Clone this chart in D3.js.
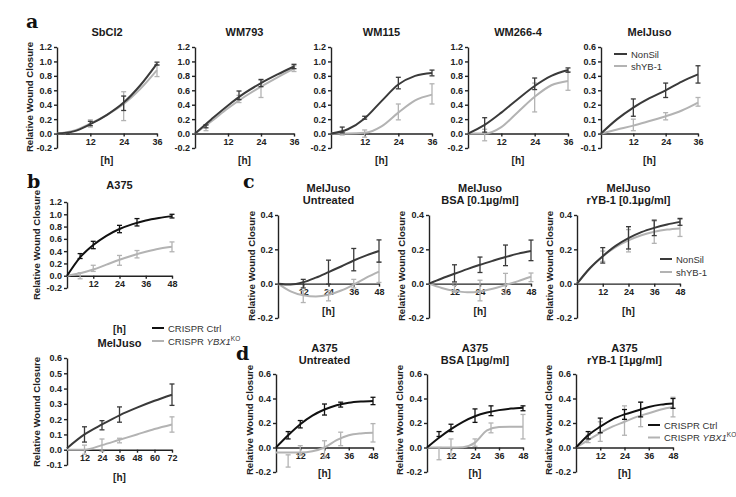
<!DOCTYPE html>
<html><head><meta charset="utf-8">
<script src="https://cdn.jsdelivr.net/npm/d3@7"></script>
<style>body{margin:0;background:#fff}svg{display:block}</style>
</head><body><svg id="fig" width="736" height="497"></svg>
<script>
// ---------- shared ticks / labels ----------
const fit36 = [0, 6, 12, 18, 24, 30, 36];
const fit48 = [0, 6, 12, 18, 24, 30, 36, 42, 48];
const fit72 = [0, 12, 24, 36, 48, 60, 72];
const xTicks36 = [12, 24, 36];
const xTicks48 = [12, 24, 36, 48];
const xTicks72 = [12, 24, 36, 48, 60, 72];
const yTicksA = [-0.2, 0, 0.2, 0.4, 0.6, 0.8, 1.0, 1.2];
const yTicksMel = [-0.1, 0, 0.1, 0.2, 0.3, 0.4, 0.5, 0.6];
const yTicksC = [-0.2, 0, 0.2, 0.4];
const yTicksD = [-0.2, 0, 0.2, 0.4, 0.6];
const legendSh = ["NonSil", "shYB-1"];
const legendCr = ["CRISPR Ctrl", "CRISPR YBX1KO"];
const yLabel = "Relative Wound Closure";
const xLabel = "[h]";

// ---------- panel a ----------
const SbCl2_time = [4, 12, 24, 36];
const SbCl2_ctrl = [0.0, 0.14, 0.42, 0.97];
const SbCl2_ctrlErr = [0.01, 0.03, 0.1, 0.02];
const SbCl2_ko = [0.0, 0.14, 0.38, 0.87];
const SbCl2_koErr = [0.01, 0.05, 0.2, 0.08];
const SbCl2_ctrlFit = [0, 0.03, 0.13, 0.26, 0.43, 0.67, 0.97];
const SbCl2_koFit = [0, 0.04, 0.14, 0.26, 0.41, 0.62, 0.88];

const WM793_time = [4, 16, 24, 36];
const WM793_ctrl = [0.1, 0.53, 0.7, 0.93];
const WM793_ctrlErr = [0.02, 0.06, 0.05, 0.03];
const WM793_ko = [0.08, 0.48, 0.62, 0.9];
const WM793_koErr = [0.04, 0.05, 0.12, 0.04];
const WM793_ctrlFit = [0, 0.2, 0.39, 0.56, 0.7, 0.82, 0.93];
const WM793_koFit = [0, 0.17, 0.35, 0.51, 0.65, 0.78, 0.9];

const WM115_time = [4, 12, 24, 36];
const WM115_ctrl = [0.05, 0.22, 0.70, 0.84];
const WM115_ctrlErr = [0.04, 0.02, 0.08, 0.04];
const WM115_ko = [0.0, 0.0, 0.3, 0.55];
const WM115_koErr = [0.02, 0.05, 0.11, 0.14];
const WM115_ctrlFit = [0, 0.06, 0.21, 0.45, 0.68, 0.8, 0.84];
const WM115_koFit = [0, 0, 0.01, 0.1, 0.29, 0.46, 0.54];

const WM266_time = [6, 24, 36];
const WM266_ctrl = [0.12, 0.69, 0.88];
const WM266_ctrlErr = [0.1, 0.08, 0.03];
const WM266_ko = [-0.02, 0.5, 0.73];
const WM266_koErr = [0.08, 0.2, 0.13];
const WM266_ctrlFit = [0, 0.12, 0.29, 0.48, 0.66, 0.8, 0.88];
const WM266_koFit = [0, 0.0, 0.09, 0.3, 0.51, 0.67, 0.73];

const MelA_time = [12, 24, 36];
const MelA_ctrl = [0.18, 0.30, 0.41];
const MelA_ctrlErr = [0.06, 0.05, 0.06];
const MelA_ko = [0.06, 0.12, 0.22];
const MelA_koErr = [0.04, 0.025, 0.03];
const MelA_ctrlFit = [0, 0.1, 0.18, 0.245, 0.3, 0.36, 0.41];
const MelA_koFit = [0, 0.028, 0.055, 0.087, 0.12, 0.16, 0.215];

// ---------- panel b ----------
const A375b_time = [6, 12, 24, 32, 48];
const A375b_ctrl = [0.32, 0.5, 0.76, 0.87, 0.97];
const A375b_ctrlErr = [0.04, 0.06, 0.06, 0.06, 0.03];
const A375b_ko = [0.0, 0.12, 0.25, 0.35, 0.47];
const A375b_koErr = [0.05, 0.05, 0.08, 0.06, 0.08];
const A375b_ctrlFit = [0, 0.3, 0.5, 0.65, 0.76, 0.84, 0.9, 0.94, 0.97];
const A375b_koFit = [0, 0.04, 0.1, 0.18, 0.26, 0.33, 0.39, 0.44, 0.47];

const MelB_time = [12, 24, 36, 72];
const MelB_ctrl = [0.1, 0.16, 0.23, 0.36];
const MelB_ctrlErr = [0.05, 0.03, 0.05, 0.07];
const MelB_ko = [0.0, 0.03, 0.06, 0.165];
const MelB_koErr = [0.03, 0.04, 0.015, 0.05];
const MelB_ctrlFit = [0.01, 0.1, 0.165, 0.225, 0.275, 0.32, 0.36];
const MelB_koFit = [0, 0.0, 0.03, 0.065, 0.1, 0.135, 0.165];

// ---------- panel c ----------
const cUnt_time = [12, 24, 36, 48];
const cUnt_ctrl = [0.0, 0.067, 0.14, 0.19];
const cUnt_ctrlErr = [0.025, 0.07, 0.065, 0.065];
const cUnt_ko = [-0.075, -0.07, 0.0, 0.067];
const cUnt_koErr = [0.035, 0.03, 0.025, 0.06];
const cUnt_ctrlFit = [0, -0.005, 0.008, 0.035, 0.067, 0.1, 0.135, 0.165, 0.19];
const cUnt_koFit = [0, -0.045, -0.068, -0.075, -0.065, -0.04, -0.005, 0.035, 0.07];

const cBSA_time = [12, 24, 36, 48];
const cBSA_ctrl = [0.06, 0.11, 0.165, 0.194];
const cBSA_ctrlErr = [0.05, 0.045, 0.06, 0.06];
const cBSA_ko = [-0.03, -0.04, 0.0, 0.037];
const cBSA_koErr = [0.02, 0.06, 0.06, 0.025];
const cBSA_ctrlFit = [0, 0.03, 0.058, 0.085, 0.11, 0.133, 0.155, 0.175, 0.19];
const cBSA_koFit = [0, -0.025, -0.042, -0.05, -0.045, -0.03, -0.008, 0.015, 0.04];

const cRYB_time = [12, 24, 36, 48];
const cRYB_ctrl = [0.165, 0.267, 0.325, 0.36];
const cRYB_ctrlErr = [0.045, 0.065, 0.045, 0.02];
const cRYB_ko = [0.16, 0.25, 0.30, 0.325];
const cRYB_koErr = [0.03, 0.065, 0.065, 0.05];
const cRYB_ctrlFit = [0, 0.09, 0.16, 0.22, 0.265, 0.3, 0.325, 0.345, 0.36];
const cRYB_koFit = [0, 0.09, 0.16, 0.213, 0.252, 0.282, 0.302, 0.315, 0.322];

// ---------- panel d ----------
const dUnt_time = [6, 12, 24, 32, 48];
const dUnt_ctrl = [0.1, 0.19, 0.31, 0.35, 0.38];
const dUnt_ctrlErr = [0.03, 0.03, 0.045, 0.02, 0.03];
const dUnt_ko = [-0.11, -0.025, -0.015, 0.07, 0.12];
const dUnt_koErr = [0.05, 0.04, 0.07, 0.055, 0.075];
const dUnt_ctrlFit = [0, 0.1, 0.19, 0.26, 0.31, 0.345, 0.365, 0.375, 0.38];
const dUnt_koFit = [-0.04, -0.04, -0.04, -0.03, 0.0, 0.06, 0.1, 0.115, 0.12];

const dBSA_time = [6, 12, 24, 32, 48];
const dBSA_ctrl = [0.11, 0.16, 0.26, 0.3, 0.32];
const dBSA_ctrlErr = [0.02, 0.03, 0.055, 0.04, 0.02];
const dBSA_ko = [-0.05, 0.0, 0.04, 0.16, 0.17];
const dBSA_koErr = [0.05, 0.07, 0.03, 0.04, 0.1];
const dBSA_ctrlFit = [0, 0.08, 0.15, 0.21, 0.255, 0.285, 0.305, 0.318, 0.325];
const dBSA_koFit = [0, 0, 0, 0.003, 0.04, 0.14, 0.168, 0.17, 0.17];

const dRYB_time = [6, 12, 24, 32, 48];
const dRYB_ctrl = [0.1, 0.18, 0.27, 0.31, 0.36];
const dRYB_ctrlErr = [0.03, 0.06, 0.04, 0.06, 0.04];
const dRYB_ko = [0.07, 0.13, 0.22, 0.27, 0.33];
const dRYB_koErr = [0.03, 0.08, 0.12, 0.1, 0.08];
const dRYB_ctrlFit = [0, 0.1, 0.17, 0.23, 0.27, 0.3, 0.33, 0.35, 0.36];
const dRYB_koFit = [0, 0.06, 0.12, 0.17, 0.21, 0.25, 0.28, 0.31, 0.33];

// ---------- drawing ----------
const svg = d3.select("#fig");
const FONT = "'Liberation Sans', Arial, sans-serif";
const GRAY = "#b3b3b3";
const DARK_A = "#3a3a3a";
const DARK_B = "#111111";
const AX = "#222";

function fmt(d) { return d.toFixed(1).replace("-0.0", "0.0"); }

function series(t, m, e, ft, f, color) { return { t, m, e, ft, f, color }; }

function panel(o) {
  const g = svg.append("g");
  const x = d3.scaleLinear().domain(o.xDom).range([o.x0, o.x1]);
  const y = d3.scaleLinear().domain(o.yDom).range([o.yBot, o.yTop]);

  const ya = g.append("g").attr("transform", `translate(${o.x0},0)`)
    .call(d3.axisLeft(y).tickValues(o.yTicks).tickFormat(fmt).tickSize(3).tickSizeOuter(0).tickPadding(2));
  const xa = g.append("g").attr("transform", `translate(0,${y(0)})`)
    .call(d3.axisBottom(x).tickValues(o.xTicks).tickSize(3).tickSizeOuter(0).tickPadding(2));
  [ya, xa].forEach(a => {
    a.selectAll("path,line").attr("stroke", AX).attr("stroke-width", 1.4);
    a.selectAll("text").attr("fill", AX).attr("font-family", FONT)
      .attr("font-size", 9).attr("font-weight", "bold");
  });

  const line = d3.line().x(d => x(d[0])).y(d => y(d[1])).curve(d3.curveMonotoneX);
  o.series.forEach(s => {
    g.append("path").datum(s.ft.map((t, i) => [t, s.f[i]]))
      .attr("d", line).attr("fill", "none").attr("stroke", s.color)
      .attr("stroke-width", 2);
    const eb = g.append("g").attr("stroke", s.color).attr("stroke-width", 1.3);
    s.t.forEach((t, i) => {
      const cx = x(t), y1 = y(s.m[i] - s.e[i]), y2 = y(s.m[i] + s.e[i]);
      eb.append("line").attr("x1", cx).attr("x2", cx).attr("y1", y1).attr("y2", y2);
      eb.append("line").attr("x1", cx - 2.5).attr("x2", cx + 2.5).attr("y1", y1).attr("y2", y1);
      eb.append("line").attr("x1", cx - 2.5).attr("x2", cx + 2.5).attr("y1", y2).attr("y2", y2);
    });
  });

  const mid = (o.x0 + o.x1) / 2;
  o.title.forEach((tl, i) => {
    g.append("text").attr("x", mid).attr("y", o.titleY + i * 11.5)
      .attr("text-anchor", "middle").attr("font-family", FONT)
      .attr("font-size", 11).attr("font-weight", "bold").attr("fill", "#1a1a1a").text(tl);
  });
  g.append("text").attr("x", mid).attr("y", o.hY).attr("text-anchor", "middle")
    .attr("font-family", FONT).attr("font-size", 10).attr("font-weight", "bold")
    .attr("fill", AX).text(xLabel);
  if (o.ylab) {
    g.append("text").attr("transform", `translate(${o.ylab[0]},${o.ylab[1]}) rotate(-90)`)
      .attr("text-anchor", "middle").attr("font-family", FONT).attr("font-size", 9.6)
      .attr("font-weight", "bold").attr("fill", AX).text(yLabel);
  }
  if (o.legend) {
    const L = o.legend;
    L.items.forEach((lab, i) => {
      const yy = L.y + i * L.dy;
      g.append("line").attr("x1", L.x).attr("x2", L.x + L.w).attr("y1", yy).attr("y2", yy)
        .attr("stroke", o.series[o.series.length - 1 - i].color).attr("stroke-width", 2);
      const t = g.append("text").attr("x", L.x + L.w + 4).attr("y", yy + 3.5)
        .attr("font-family", FONT).attr("font-size", 9.5).attr("fill", "#333");
      if (lab.endsWith("YBX1KO")) {
        t.append("tspan").text("CRISPR ");
        t.append("tspan").attr("font-style", "italic").text("YBX1");
        t.append("tspan").attr("font-size", 6.5).attr("dy", -4).text("KO");
      } else t.text(lab);
    });
  }
}

function letter(ch, x, y) {
  svg.append("text").attr("x", x).attr("y", y).attr("font-family", "'DejaVu Serif','Liberation Serif',serif")
    .attr("font-size", 19).attr("font-weight", "bold").attr("fill", "#111").text(ch);
}

// Row a
const rowA = { yTop: 47, yBot: 148, titleY: 36, hY: 164, xDom: [0, 36], xTicks: xTicks36 };
panel({ ...rowA, x0: 57, x1: 157, yDom: [-0.2, 1.2], yTicks: yTicksA, title: ["SbCl2"], ylab: [33, 97],
  series: [series(SbCl2_time, SbCl2_ko, SbCl2_koErr, fit36, SbCl2_koFit, GRAY),
           series(SbCl2_time, SbCl2_ctrl, SbCl2_ctrlErr, fit36, SbCl2_ctrlFit, DARK_A)] });
panel({ ...rowA, x0: 195, x1: 294, yDom: [-0.2, 1.2], yTicks: yTicksA, title: ["WM793"],
  series: [series(WM793_time, WM793_ko, WM793_koErr, fit36, WM793_koFit, GRAY),
           series(WM793_time, WM793_ctrl, WM793_ctrlErr, fit36, WM793_ctrlFit, DARK_A)] });
panel({ ...rowA, x0: 331, x1: 432, yDom: [-0.2, 1.2], yTicks: yTicksA, title: ["WM115"],
  series: [series(WM115_time, WM115_ko, WM115_koErr, fit36, WM115_koFit, GRAY),
           series(WM115_time, WM115_ctrl, WM115_ctrlErr, fit36, WM115_ctrlFit, DARK_A)] });
panel({ ...rowA, x0: 468, x1: 568, yDom: [-0.2, 1.2], yTicks: yTicksA, title: ["WM266-4"],
  series: [series(WM266_time, WM266_ko, WM266_koErr, fit36, WM266_koFit, GRAY),
           series(WM266_time, WM266_ctrl, WM266_ctrlErr, fit36, WM266_ctrlFit, DARK_A)] });
panel({ ...rowA, x0: 601, x1: 698, yDom: [-0.1, 0.6], yTicks: yTicksMel, title: ["MelJuso"],
  legend: { x: 614, w: 13, y: 54, dy: 12, items: legendSh },
  series: [series(MelA_time, MelA_ko, MelA_koErr, fit36, MelA_koFit, GRAY),
           series(MelA_time, MelA_ctrl, MelA_ctrlErr, fit36, MelA_ctrlFit, DARK_A)] });

// Panel b
panel({ x0: 67, x1: 172, yTop: 202, yBot: 288, xDom: [0, 48], xTicks: xTicks48, yDom: [-0.2, 1.2], yTicks: yTicksA,
  title: ["A375"], titleY: 189, hY: 333, ylab: [40, 245],
  legend: { x: 152, w: 12, y: 328, dy: 13, items: legendCr },
  series: [series(A375b_time, A375b_ko, A375b_koErr, fit48, A375b_koFit, GRAY),
           series(A375b_time, A375b_ctrl, A375b_ctrlErr, fit48, A375b_ctrlFit, DARK_B)] });
panel({ x0: 67, x1: 172, yTop: 358, yBot: 465, xDom: [0, 72], xTicks: xTicks72, yDom: [-0.1, 0.6], yTicks: yTicksMel,
  title: ["MelJuso"], titleY: 347, hY: 481, ylab: [40, 412],
  series: [series(MelB_time, MelB_ko, MelB_koErr, fit72, MelB_koFit, GRAY),
           series(MelB_time, MelB_ctrl, MelB_ctrlErr, fit72, MelB_ctrlFit, DARK_A)] });

// Panel c
const rowC = { yTop: 215, yBot: 318, xDom: [0, 48], xTicks: xTicks48, yDom: [-0.2, 0.4], yTicks: yTicksC, titleY: 192, hY: 315 };
panel({ ...rowC, x0: 278, x1: 379, title: ["MelJuso", "Untreated"], ylab: [255, 266],
  series: [series(cUnt_time, cUnt_ko, cUnt_koErr, fit48, cUnt_koFit, GRAY),
           series(cUnt_time, cUnt_ctrl, cUnt_ctrlErr, fit48, cUnt_ctrlFit, DARK_A)] });
panel({ ...rowC, x0: 429, x1: 531, title: ["MelJuso", "BSA [0.1µg/ml]"], ylab: [405, 266],
  series: [series(cBSA_time, cBSA_ko, cBSA_koErr, fit48, cBSA_koFit, GRAY),
           series(cBSA_time, cBSA_ctrl, cBSA_ctrlErr, fit48, cBSA_ctrlFit, DARK_A)] });
panel({ ...rowC, x0: 577, x1: 680, title: ["MelJuso", "rYB-1 [0.1µg/ml]"], ylab: [553, 266],
  legend: { x: 660, w: 12, y: 259, dy: 13, items: legendSh },
  series: [series(cRYB_time, cRYB_ko, cRYB_koErr, fit48, cRYB_koFit, GRAY),
           series(cRYB_time, cRYB_ctrl, cRYB_ctrlErr, fit48, cRYB_ctrlFit, DARK_A)] });

// Panel d
const rowD = { yTop: 374, yBot: 472, xDom: [0, 48], xTicks: xTicks48, yDom: [-0.2, 0.6], yTicks: yTicksD, titleY: 352, hY: 477 };
panel({ ...rowD, x0: 276, x1: 373, title: ["A375", "Untreated"], ylab: [253, 420],
  series: [series(dUnt_time, dUnt_ko, dUnt_koErr, fit48, dUnt_koFit, GRAY),
           series(dUnt_time, dUnt_ctrl, dUnt_ctrlErr, fit48, dUnt_ctrlFit, DARK_B)] });
panel({ ...rowD, x0: 427, x1: 523, title: ["A375", "BSA [1µg/ml]"], ylab: [403, 420],
  series: [series(dBSA_time, dBSA_ko, dBSA_koErr, fit48, dBSA_koFit, GRAY),
           series(dBSA_time, dBSA_ctrl, dBSA_ctrlErr, fit48, dBSA_ctrlFit, DARK_B)] });
panel({ ...rowD, x0: 576, x1: 673, title: ["A375", "rYB-1 [1µg/ml]"], ylab: [552, 420],
  legend: { x: 648, w: 12, y: 425, dy: 12.5, items: legendCr },
  series: [series(dRYB_time, dRYB_ko, dRYB_koErr, fit48, dRYB_koFit, GRAY),
           series(dRYB_time, dRYB_ctrl, dRYB_ctrlErr, fit48, dRYB_ctrlFit, DARK_B)] });

letter("a", 26, 28);
letter("b", 27, 188);
letter("c", 243, 188);
letter("d", 236, 360);
</script></body></html>
